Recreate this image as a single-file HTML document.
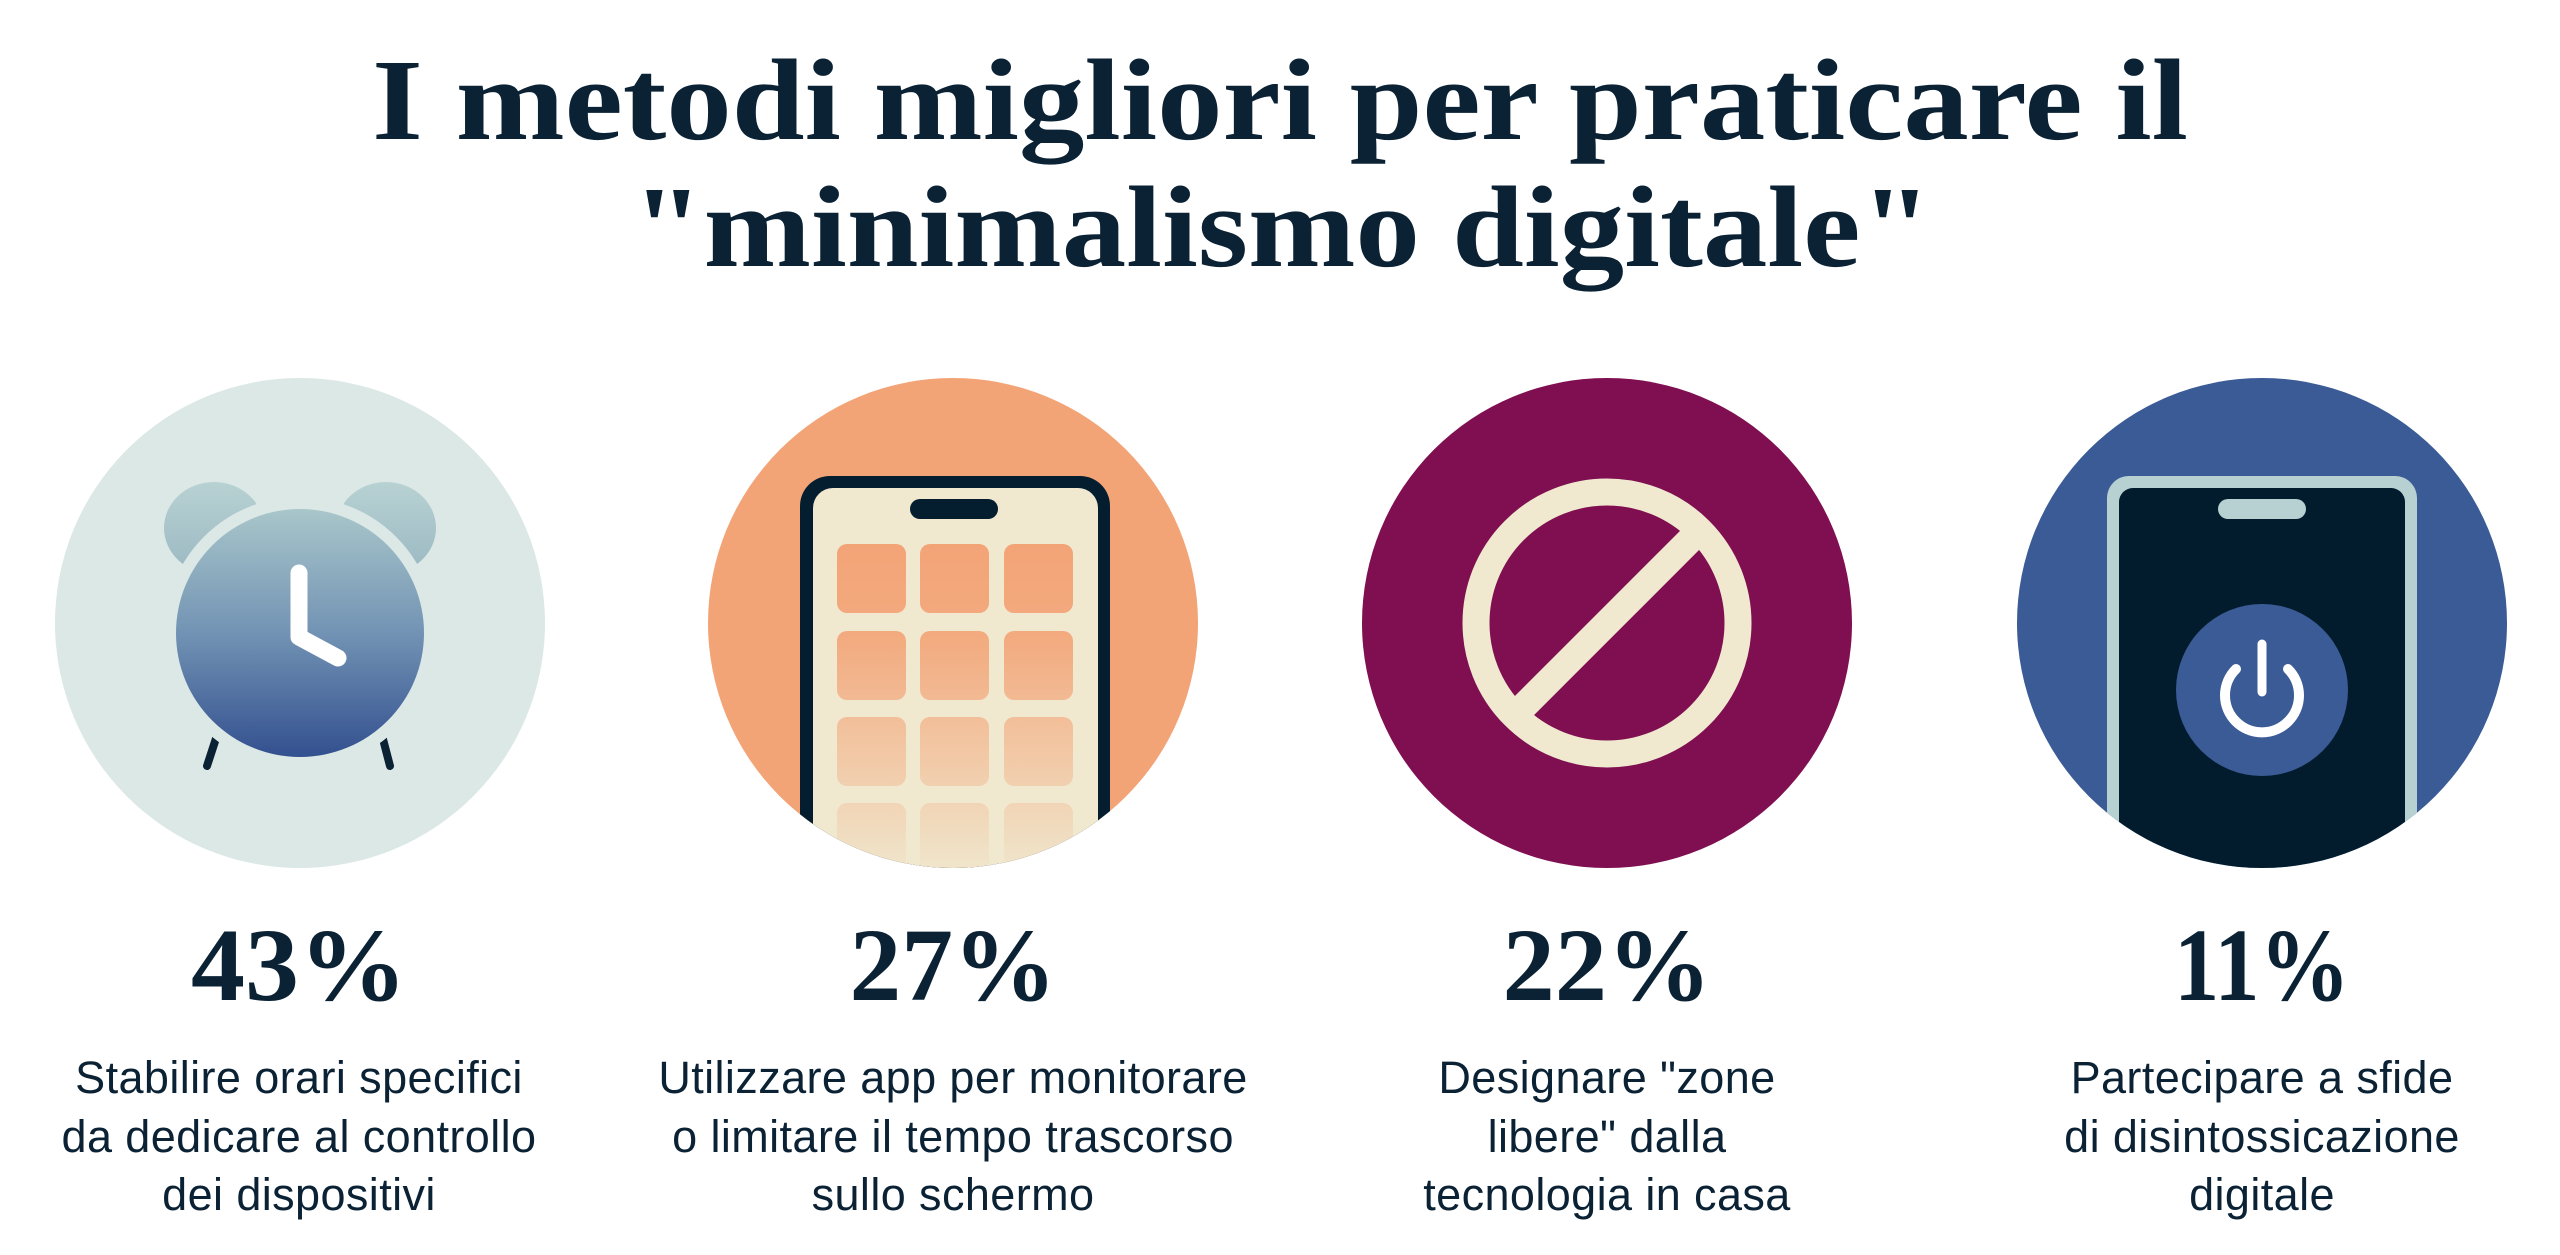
<!DOCTYPE html>
<html><head><meta charset="utf-8"><style>
html,body{margin:0;padding:0;background:#fff;}
svg{display:block;}
.t{font-family:"Liberation Serif",serif;font-weight:bold;fill:#0b2235;}
.p{font-family:"Liberation Serif",serif;font-weight:bold;fill:#0b2235;font-size:104px;text-anchor:middle;}
.b{font-family:"Liberation Sans",sans-serif;fill:#0b2235;font-size:45px;letter-spacing:0.4px;text-anchor:middle;}
</style></head><body>
<svg width="2560" height="1255" viewBox="0 0 2560 1255" xmlns="http://www.w3.org/2000/svg">
<defs>
<linearGradient id="cg" x1="0" y1="0" x2="0" y2="1"><stop offset="0" stop-color="#a9c6ca"/><stop offset="0.5" stop-color="#7293b4"/><stop offset="1" stop-color="#33508f"/></linearGradient>
<linearGradient id="bg" x1="0" y1="0" x2="0" y2="1"><stop offset="0" stop-color="#b8d2d3"/><stop offset="1" stop-color="#9bb8c2"/></linearGradient>
<linearGradient id="og" gradientUnits="userSpaceOnUse" x1="0" y1="544" x2="0" y2="870"><stop offset="0" stop-color="#f3a477" stop-opacity="1"/><stop offset="0.3" stop-color="#f3a477" stop-opacity="0.9"/><stop offset="1" stop-color="#f3a477" stop-opacity="0.05"/></linearGradient>
<clipPath id="c2"><circle cx="953" cy="623" r="245"/></clipPath>
<clipPath id="c4"><circle cx="2262" cy="623" r="245"/></clipPath>
</defs>
<text class="t" x="372" y="139" font-size="116" textLength="1816" lengthAdjust="spacingAndGlyphs">I metodi migliori per praticare il</text>
<text class="t" x="632" y="266" font-size="116" textLength="1300" lengthAdjust="spacingAndGlyphs">"minimalismo digitale"</text>

<circle cx="300" cy="623" r="245" fill="#dbe8e6"/>
<ellipse cx="214" cy="528" rx="50" ry="46" fill="url(#bg)"/>
<ellipse cx="386" cy="528" rx="50" ry="46" fill="url(#bg)"/>
<line x1="222" y1="720" x2="207" y2="766" stroke="#0b2235" stroke-width="8" stroke-linecap="round"/>
<line x1="378" y1="720" x2="390" y2="766" stroke="#0b2235" stroke-width="8" stroke-linecap="round"/>
<circle cx="300" cy="633" r="136" fill="#dbe8e6"/>
<circle cx="300" cy="633" r="124" fill="url(#cg)"/>
<polyline points="299,573 299,637 338,658" fill="none" stroke="#fff" stroke-width="17" stroke-linecap="round" stroke-linejoin="round"/>

<circle cx="953" cy="623" r="245" fill="#f3a477"/>
<g clip-path="url(#c2)">
<rect x="800" y="476" width="310" height="500" rx="30" fill="#041e30"/>
<rect x="813" y="488" width="285" height="500" rx="20" fill="#f0e9d0"/>
<rect x="910" y="499" width="88" height="20" rx="10" fill="#041e30"/>
<g fill="url(#og)">
<rect x="837" y="544" width="69" height="69" rx="10"/><rect x="920" y="544" width="69" height="69" rx="10"/><rect x="1004" y="544" width="69" height="69" rx="10"/>
<rect x="837" y="631" width="69" height="69" rx="10"/><rect x="920" y="631" width="69" height="69" rx="10"/><rect x="1004" y="631" width="69" height="69" rx="10"/>
<rect x="837" y="717" width="69" height="69" rx="10"/><rect x="920" y="717" width="69" height="69" rx="10"/><rect x="1004" y="717" width="69" height="69" rx="10"/>
<rect x="837" y="803" width="69" height="69" rx="10"/><rect x="920" y="803" width="69" height="69" rx="10"/><rect x="1004" y="803" width="69" height="69" rx="10"/>
</g>
</g>

<circle cx="1607" cy="623" r="245" fill="#7f0f50"/>
<circle cx="1607" cy="623" r="131" fill="none" stroke="#f0e9d0" stroke-width="27"/>
<line x1="1700" y1="530" x2="1514" y2="716" stroke="#f0e9d0" stroke-width="27"/>

<circle cx="2262" cy="623" r="245" fill="#3a5b96"/>
<g clip-path="url(#c4)">
<rect x="2107" y="476" width="310" height="520" rx="22" fill="#b7d0d1"/>
<rect x="2119" y="488" width="286" height="520" rx="14" fill="#021c2e"/>
<rect x="2218" y="499" width="88" height="20" rx="10" fill="#b7d0d1"/>
<circle cx="2262" cy="690" r="86" fill="#3a5b96"/>
<path d="M2236 669 A37 37 0 1 0 2288 669" fill="none" stroke="#fff" stroke-width="10" stroke-linecap="round"/>
<line x1="2262" y1="644" x2="2262" y2="692" stroke="#fff" stroke-width="9" stroke-linecap="round"/>
</g>

<text class="p" x="299" y="1000" textLength="216" lengthAdjust="spacingAndGlyphs">43%</text>
<text class="p" x="953" y="1000" textLength="207" lengthAdjust="spacingAndGlyphs">27%</text>
<text class="p" x="1607" y="1000" textLength="209" lengthAdjust="spacingAndGlyphs">22%</text>
<text class="p" x="2262" y="1000" textLength="176" lengthAdjust="spacingAndGlyphs">11%</text>

<text class="b" x="299" y="1093">Stabilire orari specifici</text>
<text class="b" x="299" y="1152">da dedicare al controllo</text>
<text class="b" x="299" y="1210">dei dispositivi</text>
<text class="b" x="953" y="1093">Utilizzare app per monitorare</text>
<text class="b" x="953" y="1152">o limitare il tempo trascorso</text>
<text class="b" x="953" y="1210">sullo schermo</text>
<text class="b" x="1607" y="1093">Designare "zone</text>
<text class="b" x="1607" y="1152">libere" dalla</text>
<text class="b" x="1607" y="1210">tecnologia in casa</text>
<text class="b" x="2262" y="1093">Partecipare a sfide</text>
<text class="b" x="2262" y="1152">di disintossicazione</text>
<text class="b" x="2262" y="1210">digitale</text>
</svg>
</body></html>
